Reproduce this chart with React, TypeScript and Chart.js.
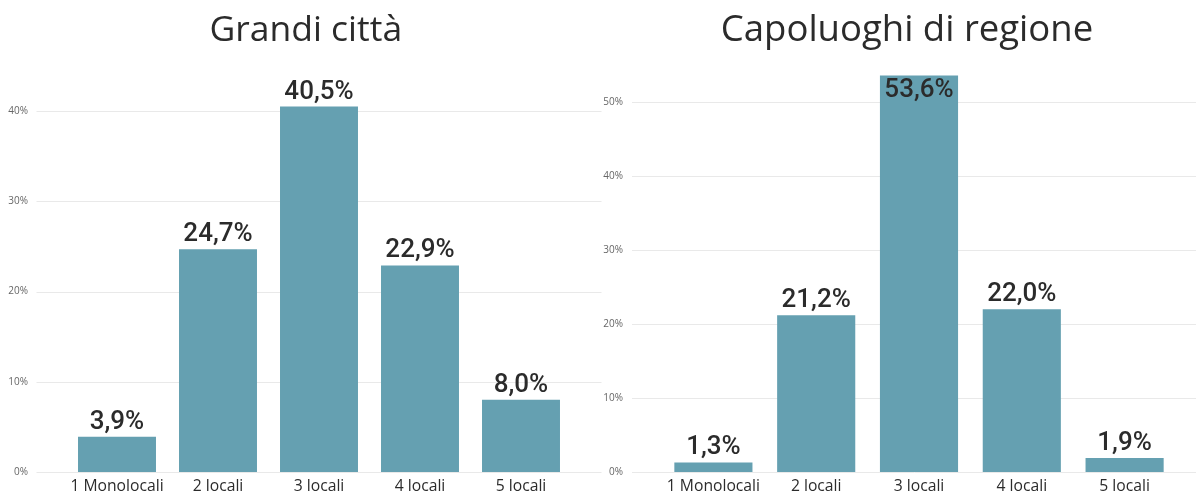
import React, { useEffect, useRef } from "react";
import { Chart, registerables } from "chart.js";

Chart.register(...registerables);

const categories = ["1 Monolocali", "2 locali", "3 locali", "4 locali", "5 locali"];
const grandiCittaValues = [3.9, 24.7, 40.5, 22.9, 8.0];
const capoluoghiValues = [1.3, 21.2, 53.6, 22.0, 1.9];
const titleLeft = "Grandi città";
const titleRight = "Capoluoghi di regione";
const tickStep = 10;

const BAR_COLOR = "#65a0b1";
const TEXT_DARK = "#2b2b2b";
const H = 497;

const fmt = (v: number) => v.toFixed(1).replace(".", ",") + "%";

const extendedGrid = {
  id: "extendedGrid",
  beforeDatasetsDraw(chart: any, _args: any, opts: any) {
    const { ctx, chartArea, scales } = chart;
    const y = scales.y;
    ctx.save();
    ctx.strokeStyle = opts.color || "#e9e9e9";
    ctx.lineWidth = 1;
    for (const t of y.ticks) {
      if (t.value % tickStep !== 0) continue;
      const py = Math.round(y.getPixelForValue(t.value)) + 0.5;
      ctx.beginPath();
      ctx.moveTo(chartArea.left - (opts.extend || 30), py);
      ctx.lineTo(chartArea.right + (opts.extend || 30), py);
      ctx.stroke();
    }
    ctx.restore();
  },
};

const titleShift = {
  id: "titleShift",
  afterLayout(chart: any, _args: any, opts: any) {
    const tb = chart.titleBlock;
    if (tb && opts && opts.dx) {
      tb.left += opts.dx;
      tb.right += opts.dx;
    }
  },
};

const barLabels = {
  id: "barLabels",
  afterDatasetsDraw(chart: any) {
    const { ctx, chartArea } = chart;
    const meta = chart.getDatasetMeta(0);
    const data = chart.data.datasets[0].data as number[];
    ctx.save();
    ctx.font = "500 26px Roboto";
    ctx.fillStyle = TEXT_DARK;
    ctx.textAlign = "center";
    ctx.textBaseline = "alphabetic";
    meta.data.forEach((bar: any, i: number) => {
      const text = fmt(data[i]);
      const capH = 18;
      let baseline = bar.y - 8;
      if (baseline - capH < chartArea.top) baseline = bar.y + 21;
      ctx.fillText(text, bar.x, baseline);
    });
    ctx.restore();
  },
};

type Cfg = {
  values: number[];
  title: string;
  titleSize: number;
  titleDx: number;
  yMax: number;
  yWidth: number;
  tickPad: number;
  padRight: number;
  catPct: number;
};

function BarPanel({ cfg, left, width }: { cfg: Cfg; left: number; width: number }) {
  const ref = useRef<HTMLCanvasElement | null>(null);
  useEffect(() => {
    if (!ref.current) return;
    const titleBlock = cfg.titleSize * 1.2;
    const titleTop = 31 - titleBlock / 2;
    const chart = new Chart(ref.current, {
      type: "bar",
      data: {
        labels: categories,
        datasets: [
          {
            data: cfg.values,
            backgroundColor: BAR_COLOR,
            borderWidth: 0,
            barPercentage: 1,
            categoryPercentage: cfg.catPct,
          },
        ],
      },
      options: {
        animation: false,
        responsive: false,
        maintainAspectRatio: false,
        devicePixelRatio: 1,
        layout: { padding: { left: 0, right: cfg.padRight, top: 0, bottom: 2 } },
        plugins: {
          legend: { display: false },
          tooltip: { enabled: false },
          title: {
            display: true,
            text: cfg.title,
            color: TEXT_DARK,
            font: { family: "'Open Sans'", size: cfg.titleSize, weight: "normal", lineHeight: 1.2 },
            padding: { top: titleTop, bottom: 66 - titleTop - titleBlock },
          },
          titleShift: { dx: cfg.titleDx },
          extendedGrid: { color: "#e9e9e9", extend: 30 },
        } as any,
        scales: {
          x: {
            grid: { display: false, drawTicks: false },
            border: { display: false },
            afterFit: (scale: any) => {
              scale.height = 23;
            },
            ticks: {
              color: TEXT_DARK,
              font: { family: "'Open Sans'", size: 15.7, lineHeight: 1.2 },
              padding: 5,
              maxRotation: 0,
              autoSkip: false,
            },
          },
          y: {
            min: 0,
            max: cfg.yMax,
            grid: { display: false, drawTicks: false },
            border: { display: false },
            afterFit: (scale: any) => {
              scale.width = cfg.yWidth;
              scale.paddingTop = 6;
              scale.paddingBottom = 6;
            },
            ticks: {
              stepSize: tickStep,
              padding: cfg.tickPad,
              color: "#666666",
              font: { family: "'Open Sans'", size: 10 },
              callback: (v: any) => (Number(v) % tickStep === 0 ? v + "%" : ""),
            },
          },
        },
      },
      plugins: [extendedGrid, titleShift, barLabels],
    });
    return () => chart.destroy();
  }, []);
  return (
    <div style={{ position: "absolute", left, top: 0, width, height: H }}>
      <canvas ref={ref} width={width} height={H} style={{ display: "block", width, height: H }} />
    </div>
  );
}

export default function App() {
  const leftCfg: Cfg = {
    values: grandiCittaValues,
    title: titleLeft,
    titleSize: 35.5,
    titleDx: 20,
    yMax: 45,
    yWidth: 66.5,
    tickPad: 38.5,
    padRight: 38.5,
    catPct: 0.772,
  };
  const rightCfg: Cfg = {
    values: capoluoghiValues,
    title: titleRight,
    titleSize: 36.5,
    titleDx: 19,
    yMax: 54.9,
    yWidth: 62,
    tickPad: 39,
    padRight: 20,
    catPct: 0.76,
  };
  return (
    <div style={{ position: "absolute", left: 0, top: 0, width: 1196, height: H, background: "#fff" }}>
      <BarPanel cfg={leftCfg} left={0} width={610} />
      <BarPanel cfg={rightCfg} left={600} width={596} />
    </div>
  );
}
